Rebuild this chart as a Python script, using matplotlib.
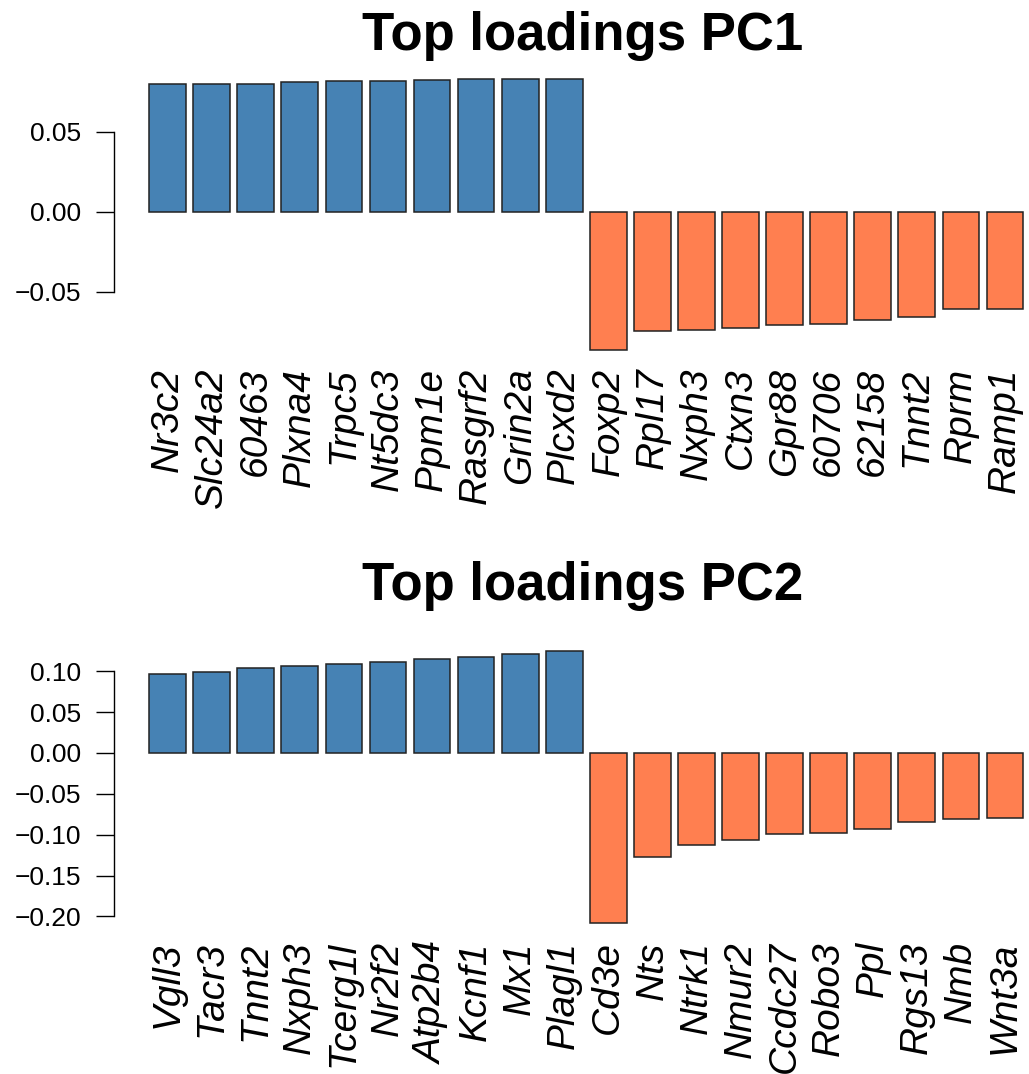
import numpy as np
import matplotlib
matplotlib.use("Agg")
import matplotlib.pyplot as plt

plt.rcParams["font.family"] = ["Liberation Sans", "DejaVu Sans"]

# PC1 top loadings (positive then negative)
pc1_genes = ["Nr3c2", "Slc24a2", "60463", "Plxna4", "Trpc5", "Nt5dc3", "Ppm1e",
             "Rasgrf2", "Grin2a", "Plcxd2",
             "Foxp2", "Rpl17", "Nxph3", "Ctxn3", "Gpr88", "60706", "62158",
             "Tnnt2", "Rprm", "Ramp1"]
pc1_values = [0.0798, 0.0798, 0.0800, 0.0813, 0.0815, 0.0819, 0.0827, 0.0831, 0.0833, 0.0833,
              -0.0863, -0.0748, -0.0738, -0.0727, -0.0706, -0.0700, -0.0679, -0.0656,
              -0.0610, -0.0608]
pc1_ticks = [-0.05, 0.0, 0.05]

# PC2 top loadings
pc2_genes = ["Vgll3", "Tacr3", "Tnnt2", "Nxph3", "Tcerg1l", "Nr2f2", "Atp2b4", "Kcnf1",
             "Mx1", "Plagl1",
             "Cd3e", "Nts", "Ntrk1", "Nmur2", "Ccdc27", "Robo3", "Ppl", "Rgs13",
             "Nmb", "Wnt3a"]
pc2_values = [0.0965, 0.0989, 0.1042, 0.1059, 0.1083, 0.1108, 0.1148, 0.1177, 0.1210, 0.1242,
              -0.2084, -0.1275, -0.1120, -0.1063, -0.0993, -0.0981, -0.0932, -0.0846,
              -0.0809, -0.0797]
pc2_ticks = [-0.20, -0.15, -0.10, -0.05, 0.0, 0.05, 0.10]

W, H = 1029, 1074
fig = plt.figure(figsize=(W / 100, H / 100), dpi=100)


def loading_panel(genes, values, ticks, title, top_px, bottom_px, title_base_px):
    values = np.asarray(values)
    left_px, right_px = 114.3, 1058.3
    ax = fig.add_axes([left_px / W, 1 - bottom_px / H,
                       (right_px - left_px) / W, (bottom_px - top_px) / H])
    # R barplot style: width 1, space 0.2
    x = 0.2 + 1.2 * np.arange(len(values)) + 0.5
    colors = ["#4682B4" if v > 0 else "#FF7F50" for v in values]
    ax.bar(x, values, width=1.0, color=colors, edgecolor="#222222", linewidth=1.1)
    lo, hi = min(values.min(), 0), max(values.max(), 0)
    pad = 0.04 * (hi - lo)
    ax.set_ylim(lo - pad, hi + pad)
    ax.set_xlim(0.2 - 0.04 * 23.8, 24 + 0.04 * 23.8)
    for s in ["top", "right", "bottom"]:
        ax.spines[s].set_visible(False)
    ax.spines["left"].set_bounds(min(ticks), max(ticks))
    ax.spines["left"].set_linewidth(1.0)
    ax.set_yticks(ticks)
    ax.set_yticklabels([f"{t:.2f}".replace("-", "\u2212") for t in ticks], fontsize=19)
    ax.tick_params(axis="y", length=13, width=1.0, pad=11)
    ax.set_xticks(x)
    ax.set_xticklabels(genes, rotation=90, fontsize=28, style="italic")
    ax.tick_params(axis="x", length=0, pad=5)
    fig.text(583 / W, 1 - title_base_px / H, title, fontsize=38, fontweight="bold",
             ha="center", va="baseline")
    return ax


loading_panel(pc1_genes, pc1_values, pc1_ticks, "Top loadings PC1", 67.7, 360.7, 50)
loading_panel(pc2_genes, pc2_values, pc2_ticks, "Top loadings PC2", 640.5, 934.2, 600)

fig.savefig("out.png", dpi=100)
